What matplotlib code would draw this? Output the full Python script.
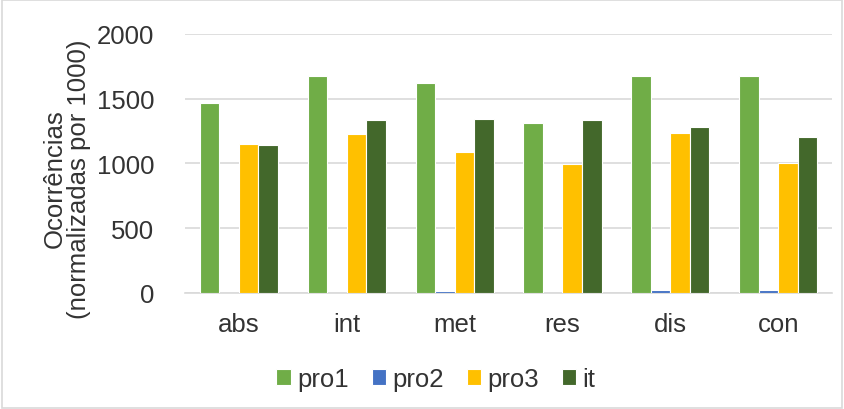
import matplotlib
matplotlib.use('Agg')
import matplotlib.pyplot as plt
import numpy as np

# === Data ===
categories = ["abs", "int", "met", "res", "dis", "con"]
pro1 = [1469, 1673, 1621, 1309, 1673, 1673]
pro2 = [0, 0, 13, 0, 26, 26]
pro3 = [1149, 1227, 1088, 995, 1235, 1003]
it = [1139, 1335, 1343, 1332, 1281, 1204]
series_names = ["pro1", "pro2", "pro3", "it"]
colors = ["#70AD47", "#4472C4", "#FFC000", "#43682B"]
y_ticks = [0, 500, 1000, 1500, 2000]

plt.rcParams['font.family'] = ['Liberation Sans', 'DejaVu Sans']
text_color = '#333333'
grid_color = '#D9D9D9'

fig = plt.figure(figsize=(8.44, 4.10), dpi=100)
ax = fig.add_axes([0.219, 0.283, 0.767, 0.632])

x = np.arange(len(categories))
slot = 0.181
for i, (vals, name, col) in enumerate(zip([pro1, pro2, pro3, it], series_names, colors)):
    ax.bar(x + (i - 1.5) * slot, vals, width=slot, color=col, label=name,
           edgecolor='white', linewidth=0.8, zorder=3)

ax.set_xlim(-0.5, len(categories) - 0.5)
ax.set_ylim(0, 2000)
ax.set_yticks(y_ticks)
ax.set_xticks(x)
ax.set_xticklabels(categories)
ax.tick_params(axis='both', length=0, labelsize=18.5, colors=text_color)
ax.tick_params(axis='y', pad=22)
ax.tick_params(axis='x', pad=14)
ax.yaxis.grid(True, color=grid_color, linewidth=1.2, zorder=0)
for s in ['top', 'right', 'left']:
    ax.spines[s].set_visible(False)
ax.spines['bottom'].set_color(grid_color)
ax.spines['bottom'].set_linewidth(1.2)

fig.text(67 / 844, 1 - 179 / 410, "Ocorrências\n(normalizadas por 1000)",
         rotation=90, ha='center', va='center', fontsize=18.5, color=text_color,
         multialignment='center', linespacing=1.0)

leg = fig.legend(loc='center', bbox_to_anchor=(436 / 844, 1 - 380 / 410), ncol=4,
                 frameon=False, fontsize=18.5, handlelength=0.55, handleheight=0.55,
                 handletextpad=0.25, columnspacing=0.9, labelcolor=text_color)

# thin grey frame around the whole chart
fig.patches.append(plt.Rectangle((0.002, 0.003), 0.996, 0.994, transform=fig.transFigure,
                                 fill=False, edgecolor=grid_color, linewidth=1.2))

plt.savefig("out.png", dpi=100)
plt.close()
